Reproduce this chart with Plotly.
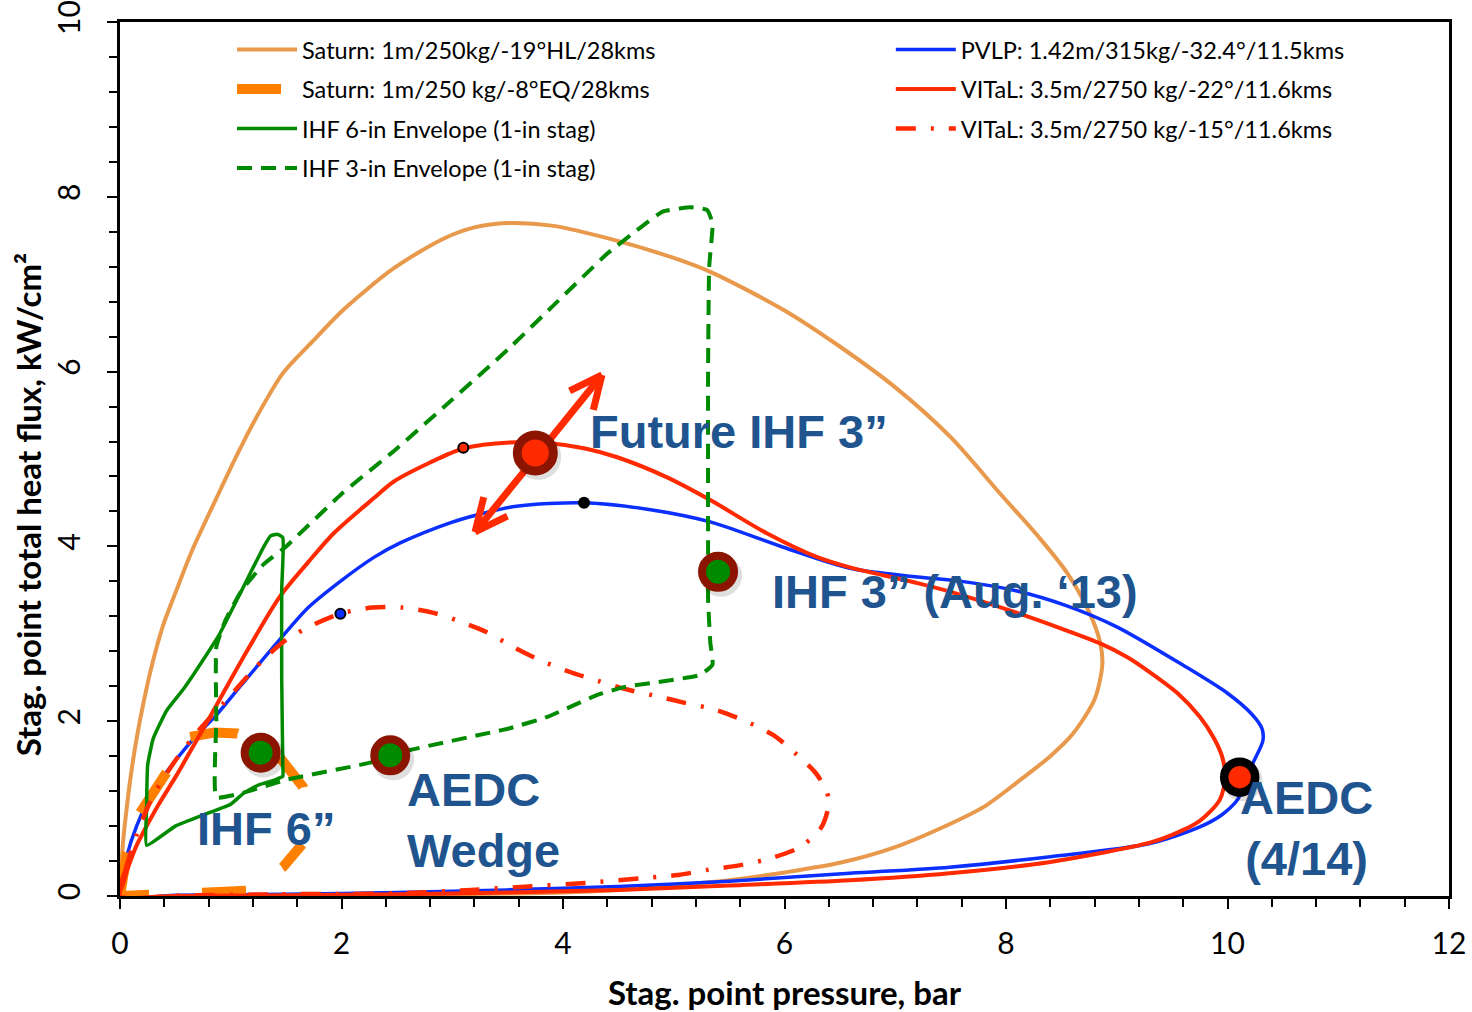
import math
import plotly.graph_objects as go

# ---------------- data (stag. point pressure [bar], heat flux [kW/cm2]) ----------------
SAT_HL_P = [0, 0.01, 0.03, 0.06, 0.10, 0.15, 0.21, 0.29, 0.39, 0.51, 0.65, 0.87, 1.05, 1.22, 1.47,
            1.75, 2.01, 2.47, 2.92, 3.20, 3.50, 3.90, 4.45, 5.00, 5.35, 6.00, 6.45, 7.00, 7.50,
            7.95, 8.30, 8.55, 8.75, 8.85, 8.87, 8.80, 8.60, 8.40, 8.10, 7.80, 7.40, 7.00, 6.50,
            6.00, 5.50, 5.00, 4.50, 4.00, 3.00, 2.00, 1.00, 0]
SAT_HL_Q = [0, 0.30, 0.65, 1.00, 1.40, 1.80, 2.20, 2.65, 3.10, 3.50, 3.95, 4.55, 5.03, 5.45, 5.98,
            6.36, 6.70, 7.18, 7.52, 7.65, 7.70, 7.67, 7.51, 7.30, 7.13, 6.70, 6.33, 5.82, 5.25,
            4.60, 4.10, 3.70, 3.25, 2.90, 2.65, 2.25, 1.85, 1.60, 1.30, 1.02, 0.77, 0.56, 0.38,
            0.27, 0.18, 0.12, 0.07, 0.04, 0.02, 0.01, 0.0, 0]

SAT_EQ_P = [0, 0.063, 0.18, 0.42, 0.63, 0.85, 1.06, 1.25, 1.44, 1.65, 1.70, 1.65, 1.47, 1.15,
            0.75, 0.27, 0.06, 0]
SAT_EQ_Q = [0, 0.49, 0.95, 1.41, 1.82, 1.87, 1.86, 1.78, 1.59, 1.25, 0.95, 0.60, 0.33, 0.06,
            0.03, 0.01, 0.005, 0]

IHF6_P = [0.24, 0.24, 0.25, 0.30, 0.42, 0.58, 0.75, 0.90, 1.10, 1.30, 1.36, 1.42, 1.47, 1.46,
          1.46, 1.47, 1.47, 1.40, 1.25, 1.12, 1.00, 0.80, 0.50, 0.24]
IHF6_Q = [0.58, 1.00, 1.50, 1.80, 2.12, 2.38, 2.70, 3.00, 3.50, 4.00, 4.12, 4.14, 4.10, 3.50,
          2.50, 1.50, 1.37, 1.33, 1.27, 1.18, 1.05, 0.95, 0.80, 0.58]

IHF3_P = [0.87, 0.87, 0.87, 0.95, 1.10, 1.30, 1.50, 2.00, 2.50, 3.00, 3.50, 3.90, 4.40, 4.67, 4.90,
          5.15, 5.30, 5.35, 5.32, 5.31, 5.31, 5.31, 5.33, 5.35, 5.24, 4.55, 4.31, 3.86, 3.52,
          2.62, 2.24, 1.50, 1.11, 0.87]
IHF3_Q = [1.13, 2.00, 2.85, 3.15, 3.50, 3.80, 4.00, 4.60, 5.12, 5.68, 6.25, 6.74, 7.35, 7.62, 7.83,
          7.88, 7.85, 7.70, 7.20, 6.00, 4.00, 3.40, 2.90, 2.65, 2.53, 2.39, 2.30, 2.05, 1.92,
          1.67, 1.52, 1.33, 1.18, 1.13]

PVLP_P = [0, 0.03, 0.06, 0.15, 0.30, 0.50, 0.70, 0.87, 1.10, 1.44, 1.70, 2.01, 2.30, 2.53, 2.98,
          3.22, 3.58, 4.18, 4.79, 5.33, 5.99, 6.59, 7.20, 7.60, 8.10, 8.55, 9.00, 9.60, 10.00,
          10.22, 10.31, 10.32, 10.23, 10.16, 10.09, 9.95, 9.75, 9.30, 8.40, 7.49, 6.59, 5.50,
          4.50, 3.50, 2.50, 1.50, 0.50, 0]
PVLP_Q = [0, 0.25, 0.45, 0.80, 1.20, 1.55, 1.85, 2.07, 2.42, 2.93, 3.30, 3.62, 3.88, 4.04, 4.27,
          4.36, 4.46, 4.50, 4.42, 4.28, 3.99, 3.75, 3.65, 3.60, 3.49, 3.32, 3.08, 2.64, 2.32,
          2.08, 1.92, 1.78, 1.52, 1.30, 1.10, 0.93, 0.79, 0.60, 0.45, 0.33, 0.26, 0.17,
          0.11, 0.07, 0.04, 0.02, 0.01, 0]

VITAL22_P = [0, 0.03, 0.08, 0.15, 0.24, 0.35, 0.51, 0.70, 0.87, 1.10, 1.44, 1.70, 1.93, 2.29,
             2.47, 2.80, 3.10, 3.52, 3.88, 4.20, 4.49, 4.94, 5.33, 5.84, 6.29, 6.59, 6.89, 7.20,
             7.50, 8.10, 8.50, 8.85, 9.10, 9.30, 9.55, 9.75, 9.88, 9.95, 9.98, 9.93, 9.75, 9.50,
             9.30, 8.40, 7.49, 6.59, 5.50, 4.50, 3.50, 2.50, 1.50, 0.50, 0]
VITAL22_Q = [0, 0.15, 0.35, 0.58, 0.80, 1.05, 1.38, 1.80, 2.18, 2.70, 3.42, 3.82, 4.15, 4.55,
             4.74, 4.96, 5.12, 5.19, 5.18, 5.12, 5.02, 4.79, 4.53, 4.15, 3.88, 3.76, 3.67, 3.58,
             3.48, 3.24, 3.06, 2.89, 2.73, 2.56, 2.32, 2.05, 1.80, 1.60, 1.36, 1.10, 0.86, 0.70,
             0.61, 0.39, 0.26, 0.18, 0.12, 0.07, 0.04, 0.02, 0.01, 0.0, 0]

VITAL15_P = [0, 0.05, 0.15, 0.30, 0.50, 0.70, 0.93, 1.29, 1.50, 1.74, 1.99, 2.28, 2.55, 2.83, 3.07,
             3.31, 3.55, 3.79, 4.07, 4.32, 4.59, 4.87, 5.10, 5.38, 5.63, 5.90, 6.10, 6.28, 6.38,
             6.40, 6.33, 6.14, 5.87, 5.59, 5.31, 5.04, 4.76, 4.21, 3.69, 3.17, 2.48, 1.44, 0.50, 0]
VITAL15_Q = [0, 0.30, 0.70, 1.15, 1.55, 1.88, 2.20, 2.70, 2.93, 3.10, 3.23, 3.30, 3.30, 3.24, 3.14,
             3.02, 2.85, 2.70, 2.56, 2.46, 2.36, 2.28, 2.21, 2.13, 2.01, 1.84, 1.63, 1.41, 1.20,
             1.05, 0.78, 0.56, 0.43, 0.35, 0.30, 0.24, 0.21, 0.15, 0.11, 0.07, 0.03, 0.02, 0.005, 0]

# test facilities / design points
FAC_NAMES = ["IHF 6”", "AEDC Wedge", "IHF 3” (Aug. ‘13)"]
FAC_P = [1.27, 2.44, 5.40]
FAC_Q = [1.64, 1.61, 3.71]
FUTURE_P = [3.75]
FUTURE_Q = [5.07]
AEDC414_P = [10.11]
AEDC414_Q = [1.36]
RED_DOT = (3.10, 5.13)
BLACK_DOT = (4.19, 4.50)
BLUE_DOT = (1.99, 3.23)
ARROW_LOW = (3.206, 4.165)
ARROW_HIGH = (4.352, 5.961)

# ---------------- styling ----------------
TAN = "#E8994B"
ORANGE = "#FF8000"
GREEN = "#008A00"
BLUE = "#0B2FFF"
RED = "#FF2A00"
RING = "#8B1500"
TXT_BLUE = "#20548F"
TXT_FONT = "Liberation Sans, Arial, sans-serif"
BASE_FONT = "Lato, Carlito, Calibri, sans-serif"
EQ_DASH = "44px,42px,48px,43px,48px,49px,38px,58px,31px,43px,44px,53px,30px,20px"

W, H = 1472, 1012
ML, MR, MT, MB = 120, 23, 22, 116
XR, YR = (0, 12), (0, 10)
PX_X = (W - ML - MR) / (XR[1] - XR[0])
PX_Y = (H - MT - MB) / (YR[1] - YR[0])

fig = go.Figure()


def add_line(x, y, name, color, width, legend, dash="solid", shape="spline", smoothing=0.8):
    fig.add_trace(go.Scatter(
        x=x, y=y, mode="lines", name=name, legend=legend, legendgroup=name,
        hoverinfo="skip",
        line=dict(color=color, width=width, dash=dash, shape=shape,
                  smoothing=smoothing if shape == "spline" else None)))


add_line(SAT_HL_P, SAT_HL_Q, "Saturn: 1m/250kg/-19°HL/28kms", TAN, 4, "legend")
add_line(PVLP_P, PVLP_Q, "PVLP: 1.42m/315kg/-32.4°/11.5kms", BLUE, 3.5, "legend2")
add_line(SAT_EQ_P, SAT_EQ_Q, "Saturn: 1m/250 kg/-8°EQ/28kms", ORANGE, 10, "legend",
         dash=EQ_DASH, shape="linear")
add_line(VITAL22_P, VITAL22_Q, "VITaL: 3.5m/2750 kg/-22°/11.6kms", RED, 4, "legend2")
add_line(IHF6_P, IHF6_Q, "IHF 6-in Envelope (1-in stag)", GREEN, 3.5, "legend", smoothing=0.4)
add_line(VITAL15_P, VITAL15_Q, "VITaL: 3.5m/2750 kg/-15°/11.6kms", RED, 4.5, "legend2",
         dash="20px,15px,3px,15px")
add_line(IHF3_P, IHF3_Q, "IHF 3-in Envelope (1-in stag)", GREEN, 4, "legend",
         dash="15px,9px", smoothing=0.4)

# double-headed arrow (shaft + chevron heads computed in pixel space)
ax_, ay_ = [], []
dxp = (ARROW_HIGH[0] - ARROW_LOW[0]) * PX_X
dyp = (ARROW_HIGH[1] - ARROW_LOW[1]) * PX_Y
L = math.hypot(dxp, dyp)
ux, uy = dxp / L, dyp / L
ax_ += [ARROW_LOW[0], ARROW_HIGH[0], None]
ay_ += [ARROW_LOW[1], ARROW_HIGH[1], None]
ARM, ANG = 36, math.radians(25)
for tip, sgn in ((ARROW_HIGH, -1), (ARROW_LOW, 1)):
    bx, by = sgn * ux, sgn * uy
    for a in (ANG, -ANG):
        rx = bx * math.cos(a) - by * math.sin(a)
        ry = bx * math.sin(a) + by * math.cos(a)
        ax_ += [tip[0] + rx * ARM / PX_X, tip[0], None]
        ay_ += [tip[1] + ry * ARM / PX_Y, tip[1], None]
fig.add_trace(go.Scatter(x=ax_, y=ay_, mode="lines", showlegend=False, hoverinfo="skip",
                         line=dict(color=RED, width=7)))

# soft drop shadows under big markers
SH_DX, SH_DY = 3 / PX_X, -4 / PX_Y
all_p = FAC_P + FUTURE_P + AEDC414_P
all_q = FAC_Q + FUTURE_Q + AEDC414_Q
fig.add_trace(go.Scatter(x=[p + SH_DX for p in all_p], y=[q + SH_DY for q in all_q], mode="markers",
                         showlegend=False, hoverinfo="skip",
                         marker=dict(size=[42, 42, 42, 46, 40], color="rgba(0,0,0,0.18)",
                                     line=dict(width=0))))

fig.add_trace(go.Scatter(x=FAC_P, y=FAC_Q, mode="markers", showlegend=False, text=FAC_NAMES,
                         marker=dict(size=32, color=GREEN, line=dict(color=RING, width=8))))
fig.add_trace(go.Scatter(x=FUTURE_P, y=FUTURE_Q, mode="markers", showlegend=False,
                         marker=dict(size=36, color=RED, line=dict(color=RING, width=9))))
fig.add_trace(go.Scatter(x=AEDC414_P, y=AEDC414_Q, mode="markers", showlegend=False,
                         marker=dict(size=31, color=RED, line=dict(color="black", width=8.5))))
fig.add_trace(go.Scatter(x=[RED_DOT[0], BLUE_DOT[0]], y=[RED_DOT[1], BLUE_DOT[1]], mode="markers",
                         showlegend=False,
                         marker=dict(size=10, color=[RED, BLUE], line=dict(color="black", width=2))))
fig.add_trace(go.Scatter(x=[BLACK_DOT[0]], y=[BLACK_DOT[1]], mode="markers", showlegend=False,
                         marker=dict(size=12, color="black")))

# labels
LABELS = [
    ("Future IHF 3”", 4.23, 5.32, "left"),
    ("IHF 3” (Aug. ‘13)", 5.87, 3.48, "left"),
    ("IHF 6”", 0.68, 0.77, "left"),
    ("AEDC<br>Wedge", 2.57, 0.87, "left"),
    ("AEDC<br>(4/14)", 10.71, 0.78, "center"),
]
for txt, x, y, anc in LABELS:
    fig.add_annotation(x=x, y=y, xref="x", yref="y", text=f"<b>{txt}</b>", showarrow=False,
                       xanchor=anc, yanchor="middle", align=anc,
                       font=dict(family=TXT_FONT, size=47, color=TXT_BLUE))

# y-axis title (placed as in the original, slightly below the axis centre)
fig.add_annotation(xref="paper", yref="paper", x=0, y=0.447, xshift=-92, xanchor="center",
                   yanchor="middle", textangle=-90, showarrow=False,
                   text="<b>Stag. point total heat flux, kW/cm²</b>",
                   font=dict(family=BASE_FONT, size=33, color="black"))

axis_common = dict(showgrid=False, zeroline=False, showline=True, linecolor="black", linewidth=2.5,
                   mirror=True, ticks="outside", ticklen=10, tickwidth=2, tickcolor="black",
                   minor=dict(ticks="outside", ticklen=8, tickwidth=2, tickcolor="black", dtick=0.4),
                   tickfont=dict(family=BASE_FONT, size=30, color="black"))

legend_common = dict(orientation="v", xanchor="left", yanchor="top", itemwidth=60,
                     bgcolor="rgba(0,0,0,0)", font=dict(family=BASE_FONT, size=23.5, color="black"),
                     traceorder="grouped", tracegroupgap=6)

fig.update_layout(
    width=W, height=H, margin=dict(l=ML, r=MR, t=MT, b=MB, autoexpand=False),
    paper_bgcolor="white", plot_bgcolor="white",
    font=dict(family=BASE_FONT, color="black"),
    xaxis=dict(range=list(XR), dtick=2, tick0=0, ticklabelstandoff=9,
               title=dict(text="<b>Stag. point pressure, bar</b>", standoff=26,
                          font=dict(family=BASE_FONT, size=33)), **axis_common),
    yaxis=dict(range=list(YR), dtick=2, tick0=0, tickangle=-90, ticklabelstandoff=15,
               **axis_common),
    legend=dict(x=0.0843, y=0.9935, **legend_common),
    legend2=dict(x=0.580, y=0.9935, **legend_common),
    showlegend=True,
)

fig.write_html("out.html")
